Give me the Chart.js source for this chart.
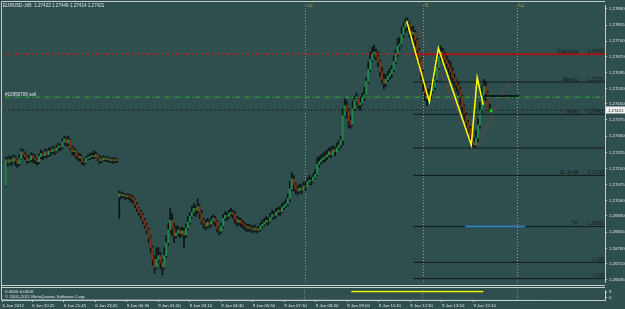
<!DOCTYPE html>
<html>
<head>
<meta charset="utf-8">
<title>EURUSD M5</title>
<script src="https://cdn.jsdelivr.net/npm/chart.js@4.4.1/dist/chart.umd.min.js"></script>
<style>
  html, body { margin: 0; padding: 0; background: #2f4f4f; }
  #wrap { position: relative; width: 625px; height: 309px; overflow: hidden; background: #2f4f4f; }
  canvas { position: absolute; left: 0; }
  #chartMain { top: 0; }
  #chartInd { top: 286px; }
</style>
</head>
<body>
<div id="wrap">
  <canvas id="chartMain" width="625" height="287"></canvas>
  <canvas id="chartInd" width="625" height="23"></canvas>
</div>
<script>
// ===== DATOS =====
// precios en puntos de 5 decimales: 27421 = 1.27421
const timeLabels = ['6 Jan 2012', '6 Jan 20:25', '6 Jan 21:45', '6 Jan 23:05', '9 Jan 00:30', '9 Jan 01:50',
    '9 Jan 03:10', '9 Jan 04:30', '9 Jan 05:50', '9 Jan 07:10', '9 Jan 08:30', '9 Jan 09:50',
    '9 Jan 11:10', '9 Jan 12:30', '9 Jan 13:50', '9 Jan 15:10'];
const timeLabelBars = [0, 15, 31, 47, 63, 79, 95, 111, 127, 143, 159, 175, 191, 207, 223, 239];

const priceTicks = [1.27890, 1.27815, 1.27740, 1.27670, 1.27595, 1.27520, 1.27450, 1.27375, 1.27300,
    1.27225, 1.27150, 1.27075, 1.27000, 1.26930, 1.26855, 1.26780, 1.26710, 1.26635];

const firstOpenPts = 27069;
const mondayBar = 58;
const mondayOpenPts = 27019;

const closePts = [
    27191, 27178, 27191, 27182, 27200, 27187, 27173, 27196, 27228, 27214,
    27205, 27187, 27191, 27210, 27200, 27191, 27182, 27205, 27219, 27210,
    27228, 27214, 27232, 27228, 27241, 27232, 27246, 27255, 27250, 27273,
    27287, 27268, 27282, 27246, 27228, 27232, 27210, 27200, 27205, 27182,
    27178, 27196, 27200, 27205, 27210, 27205, 27214, 27200, 27187, 27191,
    27200, 27191, 27196, 27187, 27191, 27187, 27191, 27187,
    27033, 27024, 27028, 27019, 27024, 27019, 27015, 27005, 26983, 26965,
    26947, 26933, 26910, 26888, 26865, 26829, 26783, 26729, 26693, 26729,
    26747, 26715, 26693, 26747, 26806, 26865, 26910, 26874, 26838, 26851,
    26865, 26847, 26860, 26842, 26874, 26901, 26928, 26947, 26965, 26956,
    26974, 26942, 26910, 26897, 26883, 26901, 26892, 26910, 26919, 26901,
    26874, 26860, 26883, 26919, 26933, 26928, 26942, 26947, 26937, 26919,
    26901, 26910, 26897, 26892, 26883, 26874, 26879, 26869, 26865, 26874,
    26865, 26869, 26883, 26892, 26901, 26910, 26906, 26924, 26937, 26933,
    26947, 26956, 26951, 26969, 26978, 26987, 27010, 27055, 27101, 27074,
    27055, 27046, 27060, 27051, 27069, 27064, 27087, 27096, 27092, 27110,
    27123, 27169, 27182, 27191, 27200, 27205, 27214, 27228, 27214, 27237,
    27228, 27246, 27259, 27282, 27395, 27441, 27418, 27373, 27355, 27427,
    27464, 27473, 27445, 27454, 27477, 27491, 27554, 27609, 27654, 27681,
    27690, 27668, 27645, 27600, 27563, 27545, 27563, 27577, 27590, 27609,
    27645, 27681, 27717, 27727, 27772, 27804, 27826, 27817, 27790, 27772,
    27781, 27745, 27699, 27654, 27600, 27545, 27500, 27473, 27491, 27509,
    27527, 27563, 27618, 27668, 27690, 27672, 27654, 27636, 27618, 27600,
    27572, 27554, 27536, 27518, 27482, 27436, 27400, 27364, 27337, 27300,
    27273, 27259, 27291, 27350, 27418, 27486, 27532, 27500, 27422, 27421
];
const highPts = [
    27205, 27200, 27210, 27205, 27214, 27210, 27196, 27214, 27241, 27237,
    27228, 27214, 27210, 27223, 27219, 27214, 27200, 27219, 27237, 27228,
    27241, 27237, 27246, 27246, 27255, 27250, 27259, 27268, 27264, 27287,
    27300, 27296, 27300, 27287, 27255, 27246, 27237, 27223, 27219, 27210,
    27196, 27205, 27214, 27219, 27223, 27232, 27228, 27219, 27210, 27205,
    27210, 27205, 27205, 27200, 27200, 27200, 27200, 27196,
    27046, 27042, 27037, 27033, 27033, 27033, 27028, 27024, 27010, 26992,
    26969, 26956, 26942, 26919, 26897, 26874, 26838, 26792, 26747, 26783,
    26783, 26761, 26729, 26783, 26838, 26897, 26965, 26942, 26897, 26883,
    26883, 26874, 26879, 26874, 26892, 26928, 26947, 26974, 26987, 26978,
    27010, 26983, 26956, 26919, 26910, 26919, 26915, 26928, 26937, 26928,
    26910, 26883, 26897, 26937, 26951, 26947, 26956, 26965, 26956, 26951,
    26928, 26924, 26919, 26910, 26901, 26892, 26892, 26888, 26883, 26888,
    26879, 26883, 26897, 26910, 26919, 26928, 26924, 26942, 26956, 26951,
    26965, 26969, 26974, 26987, 26996, 27010, 27033, 27092, 27132, 27119,
    27083, 27069, 27078, 27074, 27087, 27087, 27105, 27119, 27110, 27128,
    27146, 27200, 27205, 27214, 27223, 27228, 27237, 27246, 27250, 27255,
    27250, 27268, 27282, 27300, 27427, 27473, 27464, 27427, 27395, 27464,
    27486, 27500, 27486, 27482, 27500, 27527, 27572, 27645, 27690, 27713,
    27722, 27704, 27690, 27654, 27618, 27590, 27586, 27600, 27613, 27627,
    27672, 27699, 27754, 27758, 27804, 27826, 27844, 27849, 27826, 27808,
    27808, 27790, 27754, 27708, 27663, 27609, 27554, 27518, 27518, 27536,
    27554, 27590, 27654, 27708, 27717, 27708, 27690, 27672, 27654, 27645,
    27618, 27590, 27563, 27554, 27527, 27491, 27445, 27409, 27373, 27346,
    27318, 27291, 27327, 27382, 27454, 27532, 27563, 27554, 27509, 27449
];
const lowPts = [
    27064, 27160, 27169, 27164, 27178, 27164, 27155, 27164, 27191, 27200,
    27191, 27173, 27178, 27182, 27178, 27173, 27164, 27173, 27196, 27191,
    27200, 27200, 27205, 27210, 27219, 27214, 27223, 27232, 27232, 27241,
    27259, 27255, 27255, 27237, 27214, 27210, 27196, 27187, 27182, 27169,
    27164, 27173, 27187, 27191, 27196, 27196, 27200, 27187, 27173, 27178,
    27187, 27182, 27182, 27178, 27178, 27173, 27178, 27178,
    26919, 27010, 27015, 27005, 27010, 27005, 26996, 26987, 26969, 26951,
    26933, 26915, 26892, 26874, 26847, 26806, 26761, 26702, 26665, 26684,
    26715, 26684, 26656, 26684, 26738, 26792, 26851, 26838, 26806, 26829,
    26838, 26829, 26838, 26783, 26829, 26865, 26892, 26919, 26933, 26928,
    26942, 26919, 26892, 26874, 26865, 26874, 26874, 26883, 26892, 26883,
    26856, 26842, 26851, 26874, 26910, 26910, 26919, 26928, 26919, 26897,
    26883, 26888, 26879, 26874, 26865, 26856, 26860, 26856, 26851, 26856,
    26851, 26856, 26860, 26874, 26883, 26892, 26888, 26901, 26915, 26915,
    26924, 26937, 26933, 26947, 26960, 26969, 26978, 26996, 27046, 27046,
    27033, 27028, 27037, 27033, 27051, 27046, 27064, 27074, 27074, 27087,
    27101, 27114, 27155, 27169, 27178, 27182, 27191, 27205, 27200, 27214,
    27210, 27228, 27237, 27246, 27259, 27391, 27382, 27337, 27337, 27350,
    27418, 27445, 27427, 27418, 27445, 27464, 27477, 27545, 27600, 27645,
    27663, 27654, 27622, 27577, 27545, 27518, 27532, 27554, 27563, 27572,
    27600, 27636, 27668, 27699, 27717, 27758, 27781, 27790, 27758, 27745,
    27736, 27717, 27668, 27622, 27563, 27509, 27464, 27441, 27464, 27473,
    27500, 27518, 27554, 27609, 27654, 27645, 27618, 27609, 27590, 27563,
    27545, 27527, 27509, 27491, 27445, 27409, 27373, 27337, 27309, 27282,
    27255, 27246, 27246, 27273, 27337, 27409, 27473, 27464, 27418, 27414
];

// objetos dibujados sobre el gráfico
const levelNames = ['Stop Loss', 'Base C', 'Entry', '', 'SL @ 88', 'TP', '1.382', '1.500'];
const levelValues = ['1.27680', '1.27551', '1.27401', '', '1.27118', '1.26881', '', ''];
const levelPrices = [1.27680, 1.27551, 1.27401, 1.27245, 1.27118, 1.26881, 1.26715, 1.26640];
const levelStartBar = 208;

const stopPrice = 1.27680;
const sellPrice = 1.27481;
const sellLabel = '#10950780 sell';
const bidPrice = 1.27421;
const bidLabel = '1.27421';
const titleText = 'EURUSD-,M5  1.27422 1.27449 1.27414 1.27421';

const zigBars = [204.6, 216.2, 220.8, 237.6, 240.6, 243.7];
const zigPrices = [1.27835, 1.27459, 1.27708, 1.27259, 1.27572, 1.27445];
const diagBars = [208.6, 240.1, 256.9];
const diagPrices = [1.27840, 1.27246, 1.27554];
const orderBars = [244, 262];
const orderPrice = 1.27486;
const tpBars = [234.5, 265];
const markerBar = 247.7;
const markerPrice = 1.27418;

const sessionBars = [153, 213, 261];
const sessionNames = ['Lo', 'N', 'Lc'];

const indBars = [177, 244];
const indValues = [10, 10];
const indTicks = [0, 9];

// ===== ESTILO =====
const X_MIN = -0.3;
const X_MAX = 305.8;
const Y_MIN = 1.26624;
const Y_MAX = 1.27908;
const FRAME = '#c3cdcd';
const TXT = '#dfe6e6';
const FONT = '"Liberation Sans", Arial, sans-serif';

const toPrice = p => 1 + p / 100000;

// ===== CONSTRUCCIÓN DE VELAS =====
const openPts = closePts.map((c, i) => {
    if (i === 0) return firstOpenPts;
    if (i === mondayBar) return mondayOpenPts;
    return closePts[i - 1];
});
const wickData = closePts.map((c, i) => ({ x: i, y: [toPrice(lowPts[i]), toPrice(highPts[i])] }));
const bodyData = closePts.map((c, i) => ({ x: i, y: [toPrice(openPts[i]), toPrice(c)] }));
const bodyColors = closePts.map((c, i) => c >= openPts[i] ? '#23864e' : '#743516');

function segment(bars, prices) {
    return bars.map((b, i) => ({ x: b, y: prices[i] }));
}

function lineSet(data, color, width, dash, order) {
    return {
        type: 'line', data, borderColor: color, borderWidth: width, borderDash: dash || [],
        pointRadius: 0, fill: false, tension: 0, order: order
    };
}

const datasets = [
    { type: 'bar', data: wickData, backgroundColor: '#0b1212', barThickness: 1, grouped: false, order: 20 },
    { type: 'bar', data: bodyData, backgroundColor: bodyColors, barThickness: 1.5, minBarLength: 1, grouped: false, order: 19 },
    lineSet(segment([X_MIN, X_MAX], [stopPrice, stopPrice]), '#c42020', 1, [5, 2, 1, 2], 8),
    lineSet(segment([X_MIN, X_MAX], [sellPrice, sellPrice]), '#3aac3a', 1, [5, 2, 1, 2], 8),
    lineSet(segment([X_MIN, X_MAX], [bidPrice, bidPrice]), '#0a0a0a', 1, [1, 2], 8),
    lineSet(segment([levelStartBar, X_MAX], [stopPrice, stopPrice]), '#b80808', 1.4, [], 6)
];
levelPrices.forEach((p, i) => {
    if (i === 0) return;
    datasets.push(lineSet(segment([levelStartBar, X_MAX], [p, p]), '#121a1a', 1, [], 7));
});
datasets.push(lineSet(segment(orderBars, [orderPrice, orderPrice]), '#050505', 1.6, [], 5));
datasets.push(lineSet(segment(tpBars, [levelPrices[5], levelPrices[5]]), '#2c86d2', 1.4, [], 5));
datasets.push(lineSet(segment(diagBars, diagPrices), '#d23a3a', 1, [1, 2], 4));
datasets.push(lineSet(segment(zigBars, zigPrices), '#ffff00', 1.5, [], 2));
datasets.push({
    type: 'line', data: [{ x: markerBar, y: markerPrice }], showLine: false, pointStyle: 'rect',
    pointRadius: 2, backgroundColor: '#22ff22', borderColor: '#0b7a0b', borderWidth: 1, order: 1
});

// ===== PLUGINS =====
function sesiones(chart) {
    const { ctx, chartArea: a, scales: { x } } = chart;
    ctx.save();
    ctx.strokeStyle = '#8ea4a4';
    ctx.lineWidth = 1;
    ctx.setLineDash([1, 2]);
    sessionBars.forEach(b => {
        const px = Math.round(x.getPixelForValue(b)) + 0.5;
        ctx.beginPath();
        ctx.moveTo(px, a.top);
        ctx.lineTo(px, a.bottom);
        ctx.stroke();
    });
    ctx.restore();
}

const objetosMain = {
    id: 'objetosMain',
    beforeDatasetsDraw(chart) {
        sesiones(chart);
    },
    afterDatasetsDraw(chart) {
        const { ctx, chartArea: a, scales: { x, y } } = chart;
        ctx.save();
        // marco
        ctx.strokeStyle = FRAME;
        ctx.lineWidth = 1;
        ctx.beginPath();
        ctx.moveTo(1.5, 287);
        ctx.lineTo(1.5, 1.5);
        ctx.lineTo(a.right, 1.5);
        ctx.moveTo(1, 285.5);
        ctx.lineTo(a.right, 285.5);
        ctx.stroke();

        ctx.textBaseline = 'alphabetic';
        // etiquetas de niveles
        ctx.font = '4.6px ' + FONT;
        ctx.fillStyle = '#101818';
        levelPrices.forEach((p, i) => {
            const py = y.getPixelForValue(p) - 1.5;
            ctx.textAlign = 'right';
            if (levelValues[i]) {
                ctx.fillText(levelNames[i], 578, py);
                ctx.fillText(levelValues[i], 604, py);
            } else if (levelNames[i]) {
                ctx.fillText(levelNames[i], 604, py);
            }
        });

        // orden de venta
        ctx.textAlign = 'left';
        ctx.fillStyle = TXT;
        ctx.fillText(sellLabel, 5, y.getPixelForValue(sellPrice) - 1.5);

        // título
        ctx.fillText(titleText, 3, 7);

        // sesiones
        ctx.fillStyle = '#b1a852';
        sessionBars.forEach((b, i) => {
            ctx.fillText(sessionNames[i], x.getPixelForValue(b) + 2, 7);
        });

        // precio actual en el eje
        const by = Math.round(y.getPixelForValue(bidPrice));
        ctx.fillStyle = '#f2f2f2';
        ctx.fillRect(606, by - 3.5, 19, 7);
        ctx.fillStyle = '#111';
        ctx.font = '4.3px ' + FONT;
        ctx.fillText(bidLabel, 608, by + 1.6);
        ctx.restore();
    }
};

const objetosInd = {
    id: 'objetosInd',
    beforeDatasetsDraw(chart) {
        sesiones(chart);
    },
    afterDatasetsDraw(chart) {
        const { ctx, chartArea: a } = chart;
        ctx.save();
        ctx.strokeStyle = FRAME;
        ctx.lineWidth = 1;
        ctx.beginPath();
        ctx.moveTo(1, 1.5);
        ctx.lineTo(a.right, 1.5);
        ctx.moveTo(1.5, 0);
        ctx.lineTo(1.5, a.bottom);
        ctx.lineTo(a.right, a.bottom + 0.5);
        ctx.stroke();
        ctx.fillStyle = TXT;
        ctx.font = '4.4px ' + FONT;
        ctx.textAlign = 'left';
        ctx.fillText('0.0000 0.0000', 5, 7);
        ctx.fillText('\u00a9 2001-2011 MetaQuotes Software Corp.', 5, 12);
        ctx.restore();
    }
};

// ===== GRÁFICO PRINCIPAL =====
new Chart(document.getElementById('chartMain'), {
    type: 'bar',
    data: { datasets },
    options: {
        responsive: false,
        animation: false,
        devicePixelRatio: 1,
        layout: { padding: { left: 2, top: 2, right: 0, bottom: 2 } },
        plugins: { legend: { display: false }, tooltip: { enabled: false } },
        scales: {
            x: {
                type: 'linear', min: X_MIN, max: X_MAX, offset: false, display: false,
                grid: { offset: false }
            },
            y: {
                position: 'right', min: Y_MIN, max: Y_MAX, beginAtZero: false,
                afterBuildTicks: s => { s.ticks = priceTicks.map(v => ({ value: v })); },
                afterFit: s => { s.width = 20; },
                ticks: {
                    color: TXT, padding: 2, font: { size: 4.3, family: FONT },
                    callback: v => v.toFixed(5)
                },
                grid: { drawOnChartArea: false, color: FRAME, tickLength: 2 },
                border: { color: FRAME }
            }
        }
    },
    plugins: [objetosMain]
});

// ===== VENTANA DEL INDICADOR =====
new Chart(document.getElementById('chartInd'), {
    type: 'line',
    data: {
        datasets: [lineSet(segment(indBars, indValues), '#ffff00', 1.5, [], 1)]
    },
    options: {
        responsive: false,
        animation: false,
        devicePixelRatio: 1,
        layout: { padding: { left: 2, top: 1, right: 0, bottom: 0 } },
        plugins: { legend: { display: false }, tooltip: { enabled: false } },
        scales: {
            x: {
                type: 'linear', min: X_MIN, max: X_MAX, offset: false,
                afterBuildTicks: s => { s.ticks = timeLabelBars.map(v => ({ value: v })); },
                afterFit: s => { s.height = 9; },
                ticks: {
                    color: TXT, padding: 1, autoSkip: false, maxRotation: 0, align: 'start',
                    font: { size: 4.3, family: FONT },
                    callback: v => timeLabels[timeLabelBars.indexOf(v)]
                },
                grid: { drawOnChartArea: false, color: FRAME, tickLength: 2 },
                border: { color: FRAME }
            },
            y: {
                position: 'right', min: -3.4, max: 11.25,
                afterBuildTicks: s => { s.ticks = indTicks.map(v => ({ value: v })); },
                afterFit: s => { s.width = 20; },
                ticks: { color: TXT, padding: 2, font: { size: 4.3, family: FONT } },
                grid: { drawOnChartArea: false, color: FRAME, tickLength: 2 },
                border: { color: FRAME }
            }
        }
    },
    plugins: [objetosInd]
});
</script>
</body>
</html>
